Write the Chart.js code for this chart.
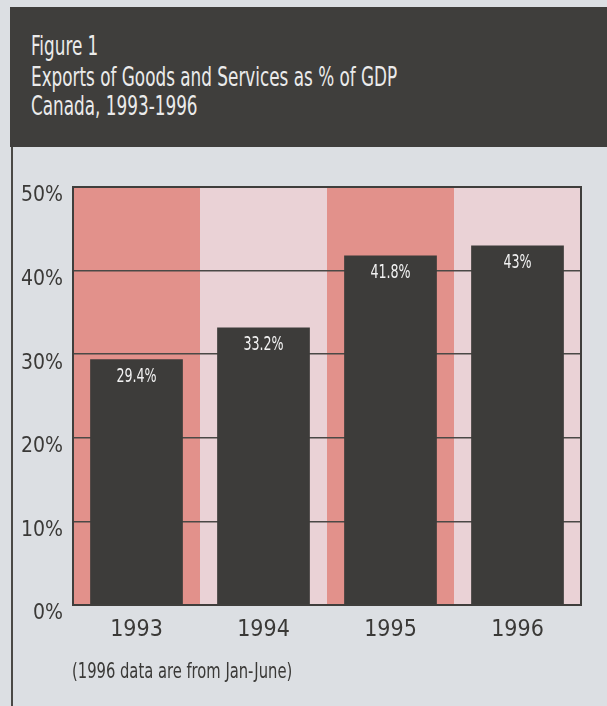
<!DOCTYPE html>
<html>
<head>
<meta charset="utf-8">
<script src="https://cdn.jsdelivr.net/npm/chart.js@4"></script>
<style>
  html, body { margin: 0; padding: 0; }
  body { width: 607px; height: 706px; background: #dcdfe3; position: relative; overflow: hidden;
         font-family: 'DejaVu Sans Condensed', 'DejaVu Sans', sans-serif; }
  #header { position: absolute; left: 10px; top: 7px; width: 597px; height: 140px; background: #3f3e3c; }
  #header div { position: absolute; left: 21px; color: #ebebeb; font-size: 26px; line-height: 30px;
                white-space: nowrap; transform: scaleX(0.72); transform-origin: left top; }
  #leftline { position: absolute; left: 11px; top: 147px; width: 2px; height: 559px; background: #4a4946; }
  #note { position: absolute; left: 72px; top: 659px; font-size: 20.5px; line-height: 24px; color: #3a3937;
          white-space: nowrap; transform: scaleX(0.8); transform-origin: left top; }
  canvas { position: absolute; left: 0; top: 0; }
</style>
</head>
<body>
<div id="header">
  <div style="top: 24px;">Figure 1</div>
  <div style="top: 55px;">Exports of Goods and Services as % of GDP</div>
  <div style="top: 84px;">Canada, 1993-1996</div>
</div>
<div id="leftline"></div>
<canvas id="chart" width="607" height="706"></canvas>
<div id="note">(1996 data are from Jan-June)</div>
<script>
var years = ['1993', '1994', '1995', '1996'];
var exportShare = [29.4, 33.2, 41.8, 43];
var yTicks = [0, 10, 20, 30, 40, 50];

var columnColors = ['#e2918b', '#ead2d6', '#e2918b', '#ead2d6'];
var fontFamily = "'DejaVu Sans Condensed', 'DejaVu Sans', sans-serif";

// alternating column shading behind the gridlines
var columnShading = {
    id: 'columnShading',
    beforeDraw: function(chart) {
        var ctx = chart.ctx, area = chart.chartArea, x = chart.scales.x;
        var w = x.getPixelForValue(1) - x.getPixelForValue(0);
        ctx.save();
        years.forEach(function(y, i) {
            ctx.fillStyle = columnColors[i];
            ctx.fillRect(x.getPixelForValue(i) - w / 2, area.top, w, area.bottom - area.top);
        });
        ctx.restore();
    }
};

// labels inside the bars + plot frame
var barLabels = {
    id: 'barLabels',
    afterDatasetsDraw: function(chart) {
        var ctx = chart.ctx, area = chart.chartArea;
        var meta = chart.getDatasetMeta(0);
        ctx.save();
        ctx.fillStyle = '#f2f2f2';
        ctx.font = '19px ' + fontFamily;
        ctx.textAlign = 'center';
        ctx.textBaseline = 'middle';
        meta.data.forEach(function(bar, i) {
            ctx.save();
            ctx.translate(bar.x, bar.y + 18);
            ctx.scale(0.74, 1);
            ctx.fillText(exportShare[i] + '%', 0, 0);
            ctx.restore();
        });
        ctx.strokeStyle = '#3f3e3c';
        ctx.lineWidth = 2;
        ctx.strokeRect(area.left, area.top, area.right - area.left, area.bottom - area.top);
        ctx.restore();
    }
};

var chart = new Chart(document.getElementById('chart'), {
    type: 'bar',
    data: {
        labels: years,
        datasets: [{
            data: exportShare,
            backgroundColor: '#3d3c3a',
            borderWidth: 0,
            barPercentage: 0.73,
            categoryPercentage: 1
        }]
    },
    options: {
        responsive: false,
        animation: false,
        layout: { padding: { top: 187, right: 26, left: 0, bottom: 0 } },
        plugins: { legend: { display: false }, tooltip: { enabled: false } },
        scales: {
            x: {
                grid: { display: false },
                border: { color: '#3f3e3c', width: 2 },
                ticks: { color: '#3a3937', padding: 3, font: { family: fontFamily, size: 23 } },
                afterFit: function(scale) { scale.height = 101; }
            },
            y: {
                min: 0,
                max: 50,
                afterBuildTicks: function(scale) {
                    scale.ticks = yTicks.map(function(v) { return { value: v }; });
                },
                grid: { color: '#4a4946', lineWidth: 1.5, drawTicks: false },
                border: { color: '#3f3e3c', width: 2 },
                ticks: {
                    color: '#3a3937',
                    padding: 10,
                    labelOffset: 9,
                    font: { family: fontFamily, size: 21 },
                    callback: function(v) { return v + '%'; }
                },
                afterFit: function(scale) { scale.width = 73; }
            }
        }
    },
    plugins: [columnShading, barLabels]
});
</script>
</body>
</html>
